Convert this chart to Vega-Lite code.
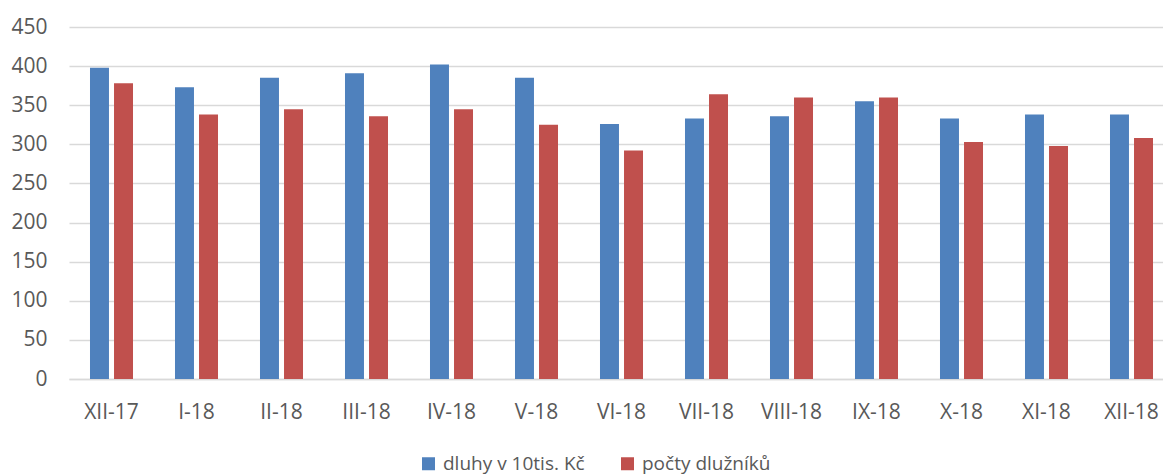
{
  "$schema": "https://vega.github.io/schema/vega-lite/v6.json",
  "autosize": {"type": "none"},
  "width": 1094,
  "height": 352,
  "padding": {"left": 69, "top": 27, "right": 0, "bottom": 95},
  "background": "white",
  "data": {
    "values": [
      {"mesic": "XII-17", "serie": "dluhy v 10tis. Kč", "hodnota": 398},
      {"mesic": "XII-17", "serie": "počty dlužníků", "hodnota": 378},
      {"mesic": "I-18", "serie": "dluhy v 10tis. Kč", "hodnota": 373},
      {"mesic": "I-18", "serie": "počty dlužníků", "hodnota": 338},
      {"mesic": "II-18", "serie": "dluhy v 10tis. Kč", "hodnota": 385},
      {"mesic": "II-18", "serie": "počty dlužníků", "hodnota": 345},
      {"mesic": "III-18", "serie": "dluhy v 10tis. Kč", "hodnota": 391},
      {"mesic": "III-18", "serie": "počty dlužníků", "hodnota": 336},
      {"mesic": "IV-18", "serie": "dluhy v 10tis. Kč", "hodnota": 402},
      {"mesic": "IV-18", "serie": "počty dlužníků", "hodnota": 345},
      {"mesic": "V-18", "serie": "dluhy v 10tis. Kč", "hodnota": 385},
      {"mesic": "V-18", "serie": "počty dlužníků", "hodnota": 325},
      {"mesic": "VI-18", "serie": "dluhy v 10tis. Kč", "hodnota": 326},
      {"mesic": "VI-18", "serie": "počty dlužníků", "hodnota": 292},
      {"mesic": "VII-18", "serie": "dluhy v 10tis. Kč", "hodnota": 333},
      {"mesic": "VII-18", "serie": "počty dlužníků", "hodnota": 364},
      {"mesic": "VIII-18", "serie": "dluhy v 10tis. Kč", "hodnota": 336},
      {"mesic": "VIII-18", "serie": "počty dlužníků", "hodnota": 360},
      {"mesic": "IX-18", "serie": "dluhy v 10tis. Kč", "hodnota": 355},
      {"mesic": "IX-18", "serie": "počty dlužníků", "hodnota": 360},
      {"mesic": "X-18", "serie": "dluhy v 10tis. Kč", "hodnota": 333},
      {"mesic": "X-18", "serie": "počty dlužníků", "hodnota": 303},
      {"mesic": "XI-18", "serie": "dluhy v 10tis. Kč", "hodnota": 338},
      {"mesic": "XI-18", "serie": "počty dlužníků", "hodnota": 298},
      {"mesic": "XII-18", "serie": "dluhy v 10tis. Kč", "hodnota": 338},
      {"mesic": "XII-18", "serie": "počty dlužníků", "hodnota": 308}
    ]
  },
  "mark": {"type": "bar"},
  "encoding": {
    "x": {
      "field": "mesic",
      "type": "nominal",
      "sort": null,
      "title": null,
      "scale": {"range": [0, 1105], "paddingInner": 0.494, "paddingOuter": 0.247},
      "axis": {
        "labelAngle": 0,
        "labelFont": "Open Sans",
        "labelFontSize": 21,
        "labelColor": "#595959",
        "labelPadding": 22,
        "ticks": false,
        "domainColor": "#d9d9d9",
        "domainWidth": 1.5,
        "grid": false
      }
    },
    "xOffset": {
      "field": "serie",
      "type": "nominal",
      "scale": {"paddingInner": 0.21, "paddingOuter": 0}
    },
    "y": {
      "field": "hodnota",
      "type": "quantitative",
      "title": null,
      "scale": {"domain": [0, 450], "nice": false},
      "axis": {
        "values": [0, 50, 100, 150, 200, 250, 300, 350, 400, 450],
        "labelFont": "Open Sans",
        "labelFontSize": 21,
        "labelColor": "#595959",
        "labelPadding": 22,
        "ticks": false,
        "domain": false,
        "gridColor": "#d9d9d9",
        "gridWidth": 1.5
      }
    },
    "color": {
      "field": "serie",
      "type": "nominal",
      "scale": {"domain": ["dluhy v 10tis. Kč", "počty dlužníků"], "range": ["#4f81bd", "#c0504d"]},
      "legend": {
        "title": null,
        "orient": "none",
        "legendX": 350,
        "legendY": 427,
        "direction": "horizontal",
        "symbolType": "square",
        "symbolSize": 169,
        "symbolOpacity": 1,
        "symbolStrokeWidth": 0,
        "labelFont": "Open Sans",
        "labelFontSize": 19,
        "labelColor": "#595959",
        "labelOffset": 5,
        "columnPadding": 33
      }
    }
  },
  "config": {"view": {"stroke": null}}
}
